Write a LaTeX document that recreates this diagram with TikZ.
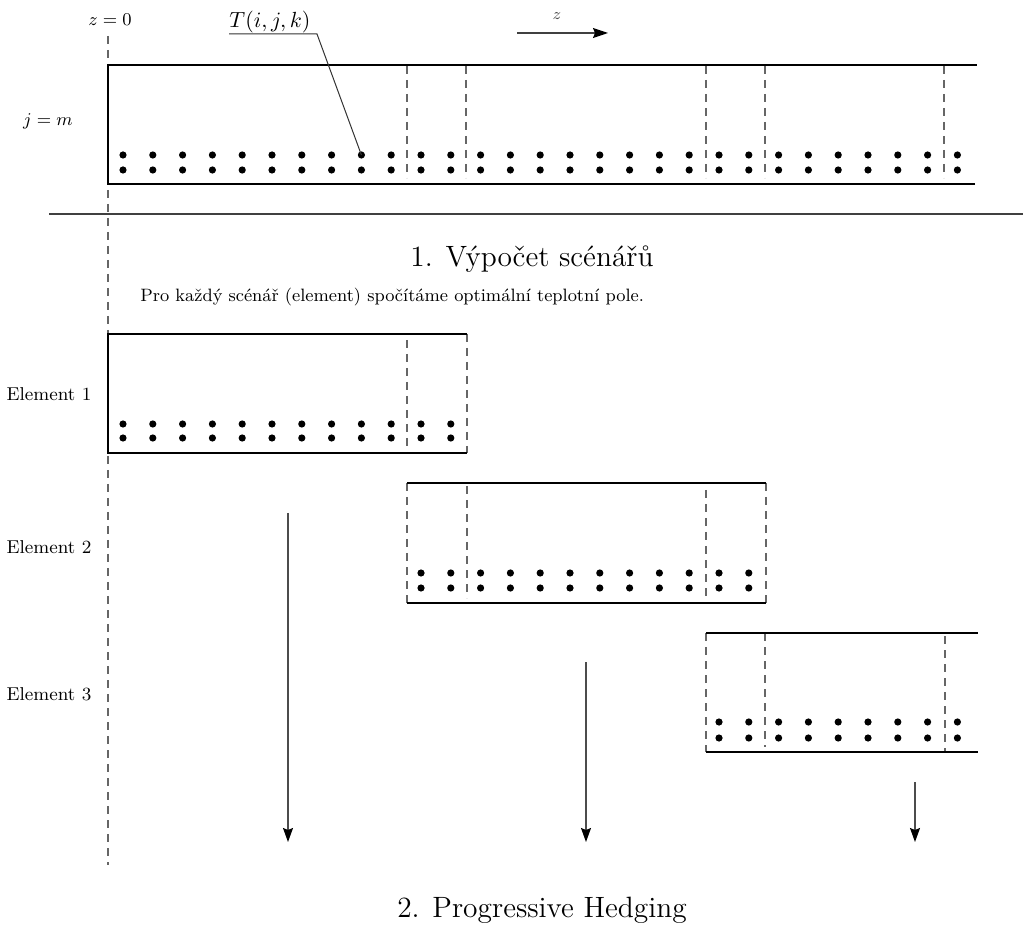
\documentclass[tikz,border=0pt]{standalone}
\usetikzlibrary{arrows.meta}
\begin{document}
\begin{tikzpicture}[x=0.5pt,y=-0.5pt,
  boxline/.style={line width=1.35pt,black},
  sepline/.style={line width=0.6pt,black!75},
  dashline/.style={line width=0.55pt,black!60,dash pattern=on 4pt off 3pt},
  dotmark/.style={circle,fill=black,inner sep=0pt,minimum size=3.6pt},
  smalltxt/.style={font=\fontsize{9.3}{11}\selectfont,inner sep=0pt},
  bigtxt/.style={font=\fontsize{14.7}{17}\selectfont,inner sep=0pt},
  downarrow/.style={line width=0.6pt,black!70,-{Stealth[length=7pt,width=5pt,inset=1pt,black]}}]
\useasboundingbox (0,0) rectangle (1023,946);

% labels
\node[smalltxt,anchor=base] (zzero) at (110,26) {$z=0$};
\node[font=\fontsize{11}{13}\selectfont,inner sep=0pt,anchor=base] (tlab) at (270,28) {$T(i,j,k)$};
\node[smalltxt,anchor=base] (jm) at (48,126) {$j=m$};
\node[font=\fontsize{8}{9}\selectfont,text=black!70,inner sep=0pt,anchor=base] (zlab) at (557,20) {$z$};
\node[bigtxt,anchor=base] (head1) at (532,267) {1. Výpočet scénářů};
\node[font=\fontsize{8.95}{11}\selectfont,inner sep=0pt,anchor=base west] (sent) at (140,302) {Pro každý scénář (element) spočítáme optimální teplotní pole.};
\node[smalltxt,anchor=base] (el1) at (49,401) {Element 1};
\node[smalltxt,anchor=base] (el2) at (49,553) {Element 2};
\node[smalltxt,anchor=base] (el3) at (49,700) {Element 3};
\node[bigtxt,anchor=base] (head2) at (542,917) {2. Progressive Hedging};

% z = 0 dashed line
\coordinate (zt) at (108,36);
\coordinate (zb) at (108,865);
\draw[dashline] (zt) -- (zb);

% z direction arrow
\coordinate (za) at (517,33);
\coordinate (zbb) at (608,33);
\draw[line width=0.6pt,black!75,-{Stealth[length=7.5pt,width=5pt,inset=1pt,black]}] (za) -- (zbb);

% separator
\coordinate (s1) at (49,214);
\coordinate (s2) at (1023,214);
\draw[sepline] (s1) -- (s2);

% ---- top full domain
\foreach \x in {407,466,706,765,944}{\draw[dashline] (\x,66) -- (\x,178);}
\draw[boxline] (975,184) -- (108,184) -- (108,65) -- (977,65);
\foreach \i in {0,...,28}{
  \node[dotmark] (ta\i) at ({123+29.8*\i},155) {};
  \node[dotmark] (tb\i) at ({123+29.8*\i},170) {};
}
% leader to T(i,j,k)
\coordinate (u1) at (229,34);
\coordinate (u2) at (317,34);
\draw[line width=0.5pt,black!80] (u1) -- (u2) -- (ta8.center);

% ---- Element 1
\draw[dashline] (407,340) -- (407,453);
\draw[dashline,line width=0.9pt] (467,334) -- (467,453);
\draw[boxline] (467,334) -- (108,334) -- (108,453) -- (467,453);
\foreach \i in {0,...,11}{
  \node[dotmark] (ea\i) at ({123+29.8*\i},424) {};
  \node[dotmark] (eb\i) at ({123+29.8*\i},438) {};
}

% ---- Element 2
\foreach \x/\a/\b in {407/483/603,467/486/598,706/490/603,766/483/603}{\draw[dashline] (\x,\a) -- (\x,\b);}
\draw[boxline] (407,483) -- (766,483);
\draw[boxline] (407,603) -- (766,603);
\foreach \i in {10,...,21}{
  \node[dotmark] (fa\i) at ({123+29.8*\i},573) {};
  \node[dotmark] (fb\i) at ({123+29.8*\i},588) {};
}

% ---- Element 3
\foreach \x/\a/\b in {706/633/752,765/633/747,945/636/752}{\draw[dashline] (\x,\a) -- (\x,\b);}
\draw[boxline] (706,633) -- (978,633);
\draw[boxline] (706,752) -- (978,752);
\foreach \i in {20,...,28}{
  \node[dotmark] (ga\i) at ({123+29.8*\i},722) {};
  \node[dotmark] (gb\i) at ({123+29.8*\i},738) {};
}

% ---- arrows down
\coordinate (a1s) at (288,513); \coordinate (a1e) at (288,842);
\coordinate (a2s) at (586,662); \coordinate (a2e) at (586,842);
\coordinate (a3s) at (915,782); \coordinate (a3e) at (915,842);
\draw[downarrow] (a1s) -- (a1e);
\draw[downarrow] (a2s) -- (a2e);
\draw[downarrow] (a3s) -- (a3e);
\end{tikzpicture}
\end{document}
